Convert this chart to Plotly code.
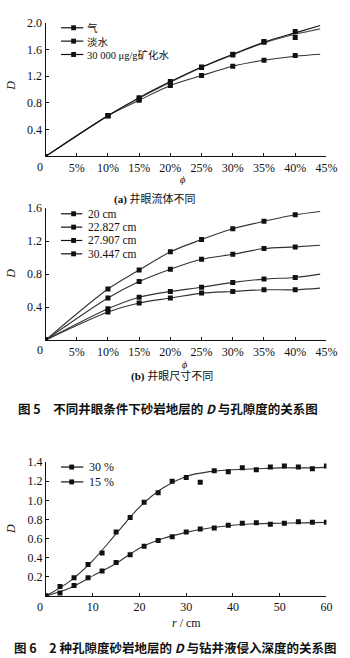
import plotly.graph_objects as go

W, H = 350, 658

# ---- (a) borehole fluid ----
phi_a = [0, 10, 15, 20, 25, 30, 35, 40]
d_gas = [0.0, 0.61, 0.88, 1.12, 1.34, 1.53, 1.72, 1.87]
d_fresh = [0.0, 0.61, 0.86, 1.10, 1.33, 1.52, 1.71, 1.78]
d_brine = [0.0, 0.61, 0.84, 1.06, 1.21, 1.35, 1.44, 1.51]
phi_a_fit = [0, 10, 15, 20, 25, 30, 35, 40, 44]
fit_gas = [0.0, 0.61, 0.88, 1.12, 1.34, 1.53, 1.71, 1.85, 1.96]
fit_fresh = [0.0, 0.61, 0.87, 1.11, 1.33, 1.52, 1.70, 1.83, 1.91]
fit_brine = [0.0, 0.61, 0.84, 1.06, 1.21, 1.35, 1.44, 1.50, 1.53]
names_a = ["气", "淡水", "30 000 μg/g矿化水"]

# ---- (b) borehole size ----
phi_b = [0, 10, 15, 20, 25, 30, 35, 40, 44]
d_20 = [0.0, 0.62, 0.85, 1.07, 1.22, 1.35, 1.44, 1.52, 1.56]
d_22 = [0.0, 0.51, 0.71, 0.86, 0.98, 1.04, 1.11, 1.13, 1.15]
d_27 = [0.0, 0.38, 0.52, 0.59, 0.64, 0.70, 0.74, 0.76, 0.80]
d_30 = [0.0, 0.34, 0.45, 0.51, 0.57, 0.59, 0.61, 0.61, 0.63]
names_b = ["20 cm", "22.827 cm", "27.907 cm", "30.447 cm"]

# ---- Fig. 6: invasion depth ----
r_c = [0, 3, 6, 9, 12, 15, 18, 21, 24, 27, 30, 33, 36, 39, 42, 45, 48, 51, 54, 57, 60]
d_por30 = [0.0, 0.10, 0.19, 0.33, 0.45, 0.67, 0.82, 0.98, 1.08, 1.20, 1.24, 1.19,
           1.31, 1.30, 1.34, 1.32, 1.35, 1.36, 1.35, 1.33, 1.36]
d_por15 = [0.0, 0.03, 0.11, 0.19, 0.26, 0.35, 0.43, 0.52, 0.58, 0.62, 0.67, 0.70,
           0.71, 0.74, 0.76, 0.765, 0.75, 0.76, 0.775, 0.77, 0.77]
r_fit = [0, 5, 10, 15, 20, 25, 30, 35, 40, 45, 50, 55, 60]
fit_por30 = [0.0, 0.15, 0.37, 0.65, 0.93, 1.13, 1.25, 1.30, 1.32, 1.33, 1.34, 1.34, 1.345]
fit_por15 = [0.0, 0.08, 0.21, 0.34, 0.50, 0.60, 0.665, 0.71, 0.74, 0.755, 0.76, 0.765, 0.77]
names_c = ["30 %", "15 %"]

phi_ticks = [5, 10, 15, 20, 25, 30, 35, 40, 45]
phi_ticktext = [f"{v}%" for v in phi_ticks]

SERIF = "Liberation Serif"
CJK = "Noto Sans CJK SC"
INK = "#111"
LINE = "#333"


def px(x):
    return x / W


def py(y):
    return 1 - y / H


fig = go.Figure()


def add_curve(x, y, xa, ya, color=LINE, width=1.1):
    fig.add_trace(go.Scatter(x=x, y=y, mode="lines", xaxis=xa, yaxis=ya,
                             line=dict(color=color, width=width, shape="spline", smoothing=0.8),
                             showlegend=False, hoverinfo="skip"))


def add_marks(x, y, xa, ya, size=5):
    fig.add_trace(go.Scatter(x=x, y=y, mode="markers", xaxis=xa, yaxis=ya,
                             marker=dict(symbol="square", size=size, color=INK),
                             showlegend=False))


# (a)
add_curve(phi_a_fit, fit_brine, "x", "y")
add_curve(phi_a_fit, fit_fresh, "x", "y", color="#555")
add_curve(phi_a_fit, fit_gas, "x", "y", color="#111")
for d in (d_gas, d_fresh, d_brine):
    add_marks(phi_a, d, "x", "y")

# (b)
for d in (d_20, d_22, d_27, d_30):
    add_curve(phi_b, d, "x2", "y2")
    add_marks(phi_b[:-1], d[:-1], "x2", "y2")

# Fig. 6
add_curve(r_fit, fit_por30, "x3", "y3")
add_curve(r_fit, fit_por15, "x3", "y3")
add_marks(r_c, d_por30, "x3", "y3", size=5)
add_marks(r_c, d_por15, "x3", "y3", size=5)

axis_common = dict(showline=True, linecolor=INK, linewidth=1, ticks="inside",
                   ticklen=3, tickcolor=INK, showgrid=False, zeroline=False,
                   tickfont=dict(family=SERIF, size=12, color=INK))

xdom = [px(47), px(337)]
fig.update_layout(
    width=W, height=H, margin=dict(l=0, r=0, t=0, b=0),
    paper_bgcolor="white", plot_bgcolor="white", showlegend=False,
    xaxis=dict(domain=xdom, range=[0, 45], anchor="y", tickvals=phi_ticks,
               ticktext=phi_ticktext, **axis_common),
    yaxis=dict(domain=[py(151), py(16)], range=[0, 2.0], anchor="x",
               tickvals=[0.4, 0.8, 1.2, 1.6, 2.0], tickformat=".1f", **axis_common),
    xaxis2=dict(domain=xdom, range=[0, 45], anchor="y2", tickvals=phi_ticks,
                ticktext=phi_ticktext, **axis_common),
    yaxis2=dict(domain=[py(336.7), py(203.3)], range=[0, 1.6], anchor="x2",
                tickvals=[0.4, 0.8, 1.2, 1.6], tickformat=".1f", **axis_common),
    xaxis3=dict(domain=[px(47.5), px(337)], range=[0, 60], anchor="y3",
                tickvals=[10, 20, 30, 40, 50, 60], **axis_common),
    yaxis3=dict(domain=[py(595.3), py(460)], range=[0, 1.4], anchor="x3",
                tickvals=[0.2, 0.4, 0.6, 0.8, 1.0, 1.2, 1.4], tickformat=".1f",
                **axis_common),
)

shapes = []
annotations = []


def text(x, y, s, size=12, family=SERIF, xanchor="center", angle=0, bold=False, italic=False):
    if italic:
        s = f"<i>{s}</i>"
    if bold:
        s = f"<b>{s}</b>"
    annotations.append(dict(x=px(x), y=py(y), xref="paper", yref="paper", text=s,
                            showarrow=False, xanchor=xanchor, yanchor="middle", align="left",
                            textangle=angle, font=dict(family=family, size=size, color=INK)))


def legend_keys(x0, x1, xm, ys):
    for y in ys:
        shapes.append(dict(type="line", xref="paper", yref="paper",
                           x0=px(x0), x1=px(x1), y0=py(y), y1=py(y),
                           line=dict(color=INK, width=1.2)))
        shapes.append(dict(type="rect", xref="paper", yref="paper",
                           x0=px(xm - 2.5), x1=px(xm + 2.5), y0=py(y - 2.5), y1=py(y + 2.5),
                           fillcolor=INK, line=dict(width=0)))


# legend (a): one block of stacked labels
rows_a = [21.0, 34.5, 48.0]
legend_keys(63, 86, 76, rows_a)
text(88, sum(rows_a) / 3, "<br>".join(names_a), size=10.5,
     family=f"{SERIF}, {CJK}", xanchor="left")

# legend (b)
rows_b = [209.0, 222.5, 236.0, 249.5]
legend_keys(63, 85, 76, rows_b)
for y, lab in zip(rows_b, names_b):
    text(89, y, lab, size=11.5, xanchor="left")

# legend (c)
rows_c = [465.0, 480.0]
legend_keys(63, 86, 74, rows_c)
for y, lab in zip(rows_c, names_c):
    text(90, y, lab, size=12, xanchor="left")

# axis titles and origin labels
text(12, 80, "D", angle=-90, italic=True)
text(12, 270, "D", angle=-90, italic=True)
text(12, 528, "D", angle=-90, italic=True)
text(189, 174, "ϕ", italic=True, size=10.5)
text(191, 361.5, "ϕ", italic=True, size=10)
text(193, 623, "<i>r</i> / cm")
for yy in (162, 347, 606):
    text(41, yy, "0")

# captions
annotations.append(dict(x=px(160), y=py(194), xref="paper", yref="paper", showarrow=False,
                        text="<b>(a)</b> 井眼流体不同", xanchor="center", yanchor="middle",
                        font=dict(family=f"{SERIF}, {CJK}", size=11, color=INK)))
annotations.append(dict(x=px(178), y=py(372.5), xref="paper", yref="paper", showarrow=False,
                        text="<b>(b)</b> 井眼尺寸不同", xanchor="center", yanchor="middle",
                        font=dict(family=f"{SERIF}, {CJK}", size=11, color=INK)))
text(17, 406, "图 5　不同井眼条件下砂岩地层的 <i>D</i> 与孔隙度的关系图", size=12.5,
     family=CJK, xanchor="left", bold=True)
text(12, 647.5, "图 6　2 种孔隙度砂岩地层的 <i>D</i> 与钻井液侵入深度的关系图", size=12.5,
     family=CJK, xanchor="left", bold=True)

fig.update_layout(shapes=shapes, annotations=annotations)
fig.write_html("out.html")
